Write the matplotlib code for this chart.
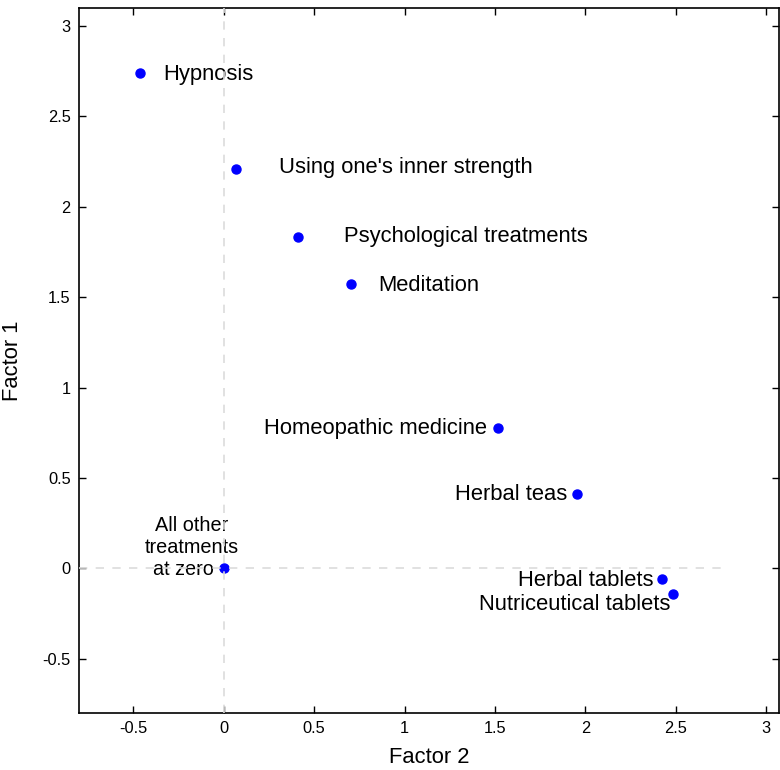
import matplotlib
matplotlib.use("Agg")
import matplotlib.pyplot as plt

plt.rcParams['font.family'] = ['Liberation Sans', 'DejaVu Sans']

names = ["Hypnosis", "Using one's inner strength", "Psychological treatments",
         "Meditation", "Homeopathic medicine", "Herbal teas", "Herbal tablets",
         "Nutriceutical tablets"]
factor2 = [-0.46, 0.07, 0.41, 0.705, 1.515, 1.955, 2.425, 2.485]
factor1 = [2.74, 2.21, 1.835, 1.575, 0.775, 0.41, -0.06, -0.14]
zero_label = "All other\ntreatments\nat zero   "
xticks = [-0.5, 0, 0.5, 1, 1.5, 2, 2.5, 3]
yticks = [-0.5, 0, 0.5, 1, 1.5, 2, 2.5, 3]

# label offsets in pixels (dx, dy, ha, va)
offsets = [(23, -1, 'left', 'center'), (43, 1, 'left', 'center'),
           (46, 0, 'left', 'center'), (27, -2, 'left', 'center'),
           (-11, 0, 'right', 'center'), (-10, 0, 'right', 'center'),
           (-9, -1, 'right', 'center'), (-3, -11, 'right', 'center')]

fig = plt.figure(figsize=(7.8, 7.7), dpi=100)
ax = fig.add_axes([79/780, 57/770, 700/780, 705/770])
ax.set_xlim(-0.8, 3.07)
ax.set_ylim(-0.8, 3.1)

ax.plot(factor2, factor1, 'o', color='#0000ff', markersize=6.5, zorder=3)
ax.plot([0], [0], 'o', color='#0000ff', markersize=6.5, zorder=3)
ax.plot([-0.8, 2.75], [0, 0], linestyle=(0, (5, 5)), color='#dcdcdc', lw=1.2, zorder=4)
ax.plot([0, 0], [-0.8, 3.1], linestyle=(0, (5, 5)), color='#dcdcdc', lw=1.2, zorder=4)

for n, x, y, (dx, dy, ha, va) in zip(names, factor2, factor1, offsets):
    ax.annotate(n, (x, y), xytext=(dx, dy), textcoords='offset pixels',
                ha=ha, va=va, fontsize=15.8, color='black')
ax.annotate(zero_label, (0, 0), xytext=(-32, -11), textcoords='offset pixels',
            ha='center', va='bottom', fontsize=14.3, linespacing=1.2, multialignment='center')

ax.set_xticks(xticks)
ax.set_yticks(yticks)
ax.set_xticklabels([f"{t:g}" for t in xticks])
ax.set_yticklabels([f"{t:g}" for t in yticks])
ax.tick_params(direction='in', length=5, width=1, top=True, right=True,
               labelsize=11.8, pad=6)
for s in ax.spines.values():
    s.set_linewidth(1.2)
ax.set_xlabel("Factor 2", fontsize=15.8, labelpad=8)
ax.set_ylabel("Factor 1", fontsize=15.8, labelpad=14)

fig.savefig("out.png", dpi=100)
